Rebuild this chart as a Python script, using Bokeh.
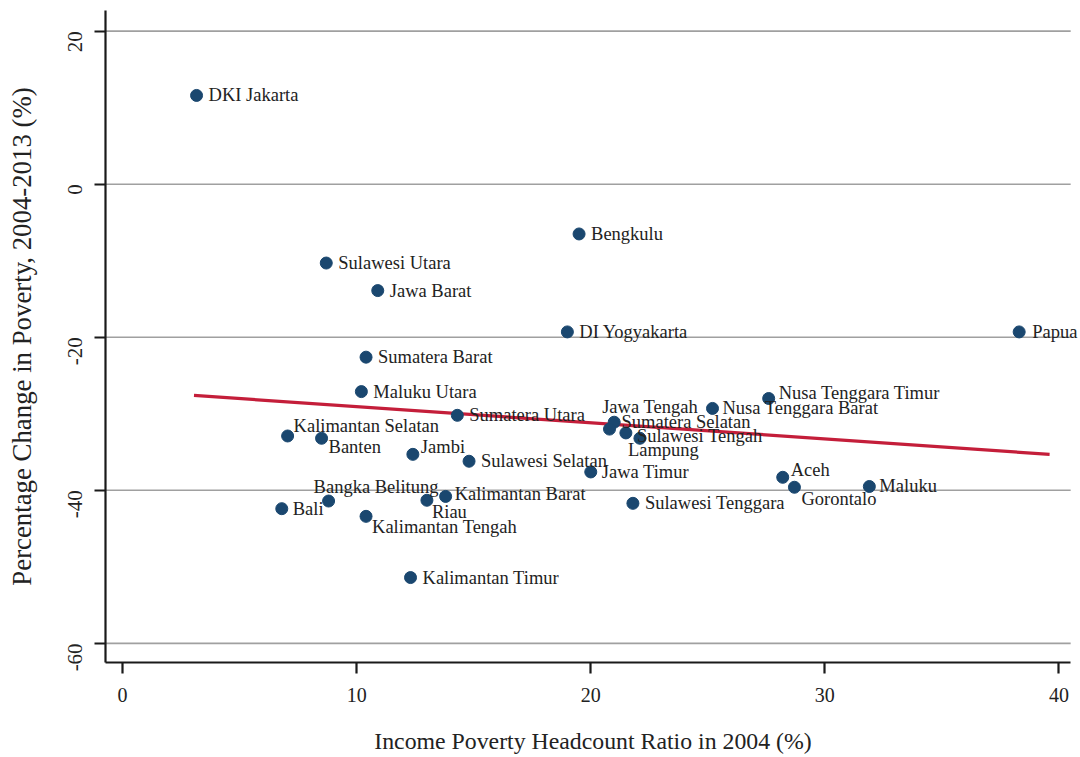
import math
from bokeh.plotting import figure
from bokeh.models import ColumnDataSource, Range1d, FixedTicker, LabelSet
from bokeh.embed import file_html
from bokeh.resources import INLINE

provinces = ["DKI Jakarta", "Bengkulu", "Sulawesi Utara", "Jawa Barat", "DI Yogyakarta",
             "Papua", "Sumatera Barat", "Maluku Utara", "Nusa Tenggara Timur",
             "Nusa Tenggara Barat", "Sumatera Utara", "Jawa Tengah", "Sumatera Selatan",
             "Sulawesi Tengah", "Lampung", "Kalimantan Selatan", "Banten", "Jambi",
             "Sulawesi Selatan", "Jawa Timur", "Aceh", "Gorontalo", "Maluku",
             "Bangka Belitung", "Bali", "Riau", "Kalimantan Barat", "Sulawesi Tenggara",
             "Kalimantan Tengah", "Kalimantan Timur"]
poverty_2004 = [3.16, 19.5, 8.7, 10.9, 19.0,
                38.3, 10.4, 10.2, 27.6,
                25.2, 14.3, 21.0, 20.8,
                21.5, 22.1, 7.05, 8.5, 12.4,
                14.8, 20.0, 28.2, 28.7, 31.9,
                8.8, 6.8, 13.0, 13.8, 21.8,
                10.4, 12.3]
pct_change = [11.6, -6.5, -10.3, -13.9, -19.3,
              -19.3, -22.6, -27.1, -28.0,
              -29.3, -30.2, -31.1, -32.0,
              -32.5, -33.2, -32.9, -33.2, -35.3,
              -36.2, -37.6, -38.3, -39.6, -39.5,
              -41.4, -42.4, -41.3, -40.8, -41.7,
              -43.4, -51.4]

fit_x = [3.05, 39.6]
fit_y = [-27.6, -35.3]

x_ticks = [0, 10, 20, 30, 40]
y_ticks = [-60, -40, -20, 0, 20]

# plot region extent (axis line / grid extent) and view range
x_min, x_max = -0.73, 40.5
x_view_max = 40.92
y_min, y_max = -62.5, 22.7

# label placement offsets (screen px, dy positive = down)
label_dx = [12, 12, 12, 12, 12,
            13, 12, 12, 10,
            10, 12, -12, 12,
            11, -12, 6, 7, 8,
            12, 11, 8, 7, 10,
            -15, 11, 5, 9, 12,
            6, 12]
label_dy = [0, 0, 0, 0, 0,
            0, 0, 0, -5,
            0, 0, -15, -7,
            3, 12, -10, 9, -7,
            0, 0, -7, 12, 0,
            -14, 0, 12, -2, 0,
            11, 0]

src = ColumnDataSource(dict(x=poverty_2004, y=pct_change, name=provinces,
                            dx=label_dx, dy=[-d for d in label_dy]))

p = figure(width=1080, height=757, output_backend="svg", toolbar_location=None,
           x_range=Range1d(x_min, x_view_max), y_range=Range1d(y_min, y_max),
           min_border_left=105, min_border_right=0, min_border_top=10, min_border_bottom=95)
p.outline_line_color = None
p.background_fill_color = "white"
p.border_fill_color = "white"

p.xgrid.grid_line_color = None
p.ygrid.grid_line_color = None

# horizontal grid lines limited to the plot region
p.segment(x0=[x_min] * len(y_ticks), x1=[x_max] * len(y_ticks), y0=y_ticks, y1=y_ticks,
          line_color="#a0a0a0", line_width=1.6)

serif = "Liberation Serif"

p.xaxis.ticker = FixedTicker(ticks=x_ticks)
p.yaxis.ticker = FixedTicker(ticks=y_ticks)
p.xaxis.bounds = (x_min, x_max)
for ax in (p.xaxis[0], p.yaxis[0]):
    ax.axis_line_color = "#1a1a1a"
    ax.axis_line_width = 2.2
    ax.major_tick_line_color = "#1a1a1a"
    ax.major_tick_line_width = 2.2
    ax.major_tick_out = 11
    ax.major_tick_in = 0
    ax.minor_tick_line_color = None
    ax.major_label_text_font = serif
    ax.major_label_text_color = "#222222"
    ax.axis_label_text_font = serif
    ax.axis_label_text_font_style = "normal"
    ax.axis_label_text_color = "#222222"

p.yaxis.major_label_overrides = {t: str(t) for t in y_ticks}

p.xaxis.major_label_text_font_size = "20px"
p.xaxis.major_label_standoff = 14
p.xaxis.axis_label = "Income Poverty Headcount Ratio in 2004 (%)"
p.xaxis.axis_label_text_font_size = "23.8px"
p.xaxis.axis_label_standoff = 23

p.yaxis.major_label_text_font_size = "21px"
p.yaxis.major_label_orientation = math.pi / 2
p.yaxis.major_label_standoff = 19
p.yaxis.axis_label = "Percentage Change in Poverty, 2004-2013 (%)"
p.yaxis.axis_label_text_font_size = "26.8px"
p.yaxis.axis_label_standoff = 22

p.line(fit_x, fit_y, line_color="#c41e3a", line_width=3.2)
p.scatter("x", "y", source=src, size=12, fill_color="#1a476f", line_color="#1a476f")
labels = LabelSet(x="x", y="y", text="name", source=src, x_offset="dx", y_offset="dy",
                  text_font=serif, text_font_size="18.5px", text_color="#222222",
                  text_align="left", text_baseline="middle")
p.add_layout(labels)

open("out.html", "w").write(file_html(p, INLINE))
